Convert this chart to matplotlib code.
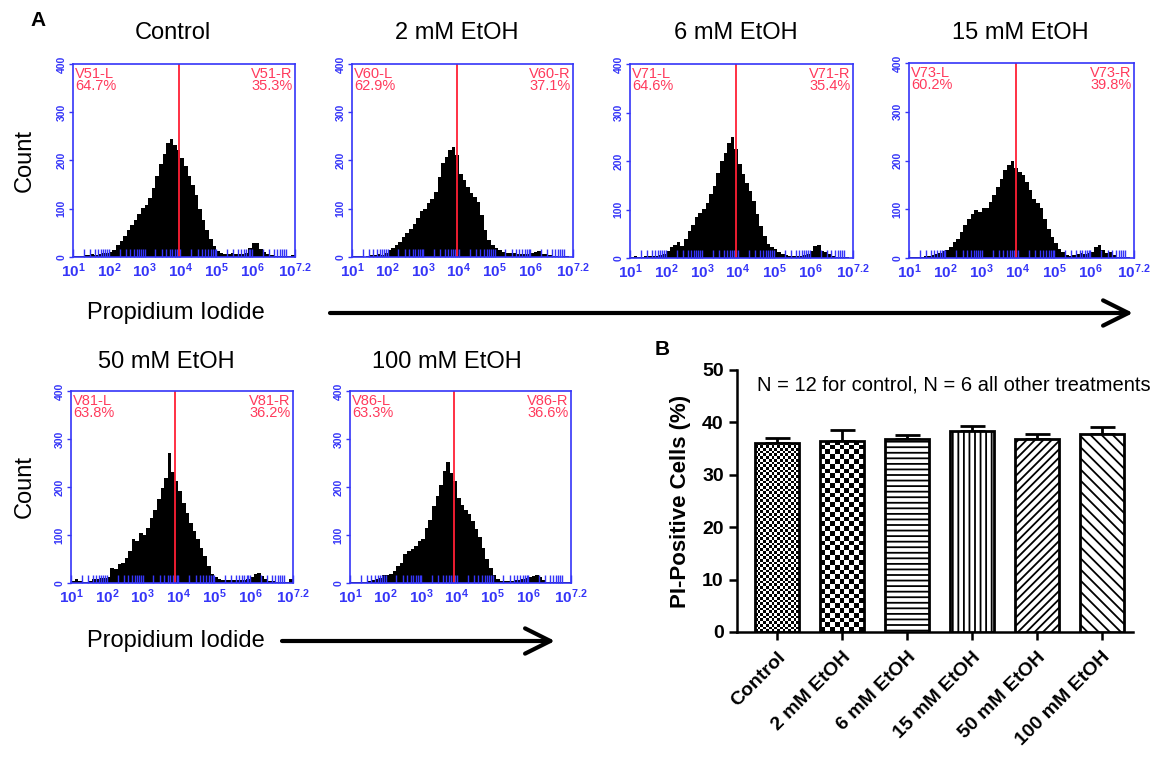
import numpy as np
import matplotlib
matplotlib.use("Agg")
import matplotlib.pyplot as plt
from matplotlib.ticker import FixedLocator, LogLocator, NullFormatter

plt.rcParams["font.family"] = ["Liberation Sans", "DejaVu Sans"]
plt.rcParams["mathtext.fontset"] = "custom"
plt.rcParams["mathtext.rm"] = "Liberation Sans"
plt.rcParams["mathtext.bf"] = "Liberation Sans:bold"
plt.rcParams["hatch.linewidth"] = 1.3

# --- panel A: PI histograms, counts per 0.1-decade bin, 10^1 .. 10^7.2 ---
hist_titles = ["Control", "2 mM EtOH", "6 mM EtOH", "15 mM EtOH", "50 mM EtOH", "100 mM EtOH"]
gate_ids = ["V51", "V60", "V71", "V73", "V81", "V86"]
left_pct = ["64.7%", "62.9%", "64.6%", "60.2%", "63.8%", "63.3%"]
right_pct = ["35.3%", "37.1%", "35.4%", "39.8%", "36.2%", "36.6%"]
gate_log = [3.95, 3.94, 3.94, 3.94, 3.91, 3.92]

counts_control = [3, 2, 3, 4, 5, 6, 5, 6, 8, 9, 11, 15, 24, 34, 44, 56, 66, 76, 90, 101,
                  107, 122, 142, 168, 192, 214, 236, 245, 232, 222, 205, 188, 168, 150, 128, 100, 76, 55, 38, 22,
                  12, 8, 7, 6, 8, 7, 6, 7, 9, 18, 30, 28, 17, 10, 6, 4, 3, 3, 2, 3, 3, 5]
counts_2mm = [2, 2, 3, 1, 2, 5, 5, 6, 5, 9, 14, 19, 24, 31, 42, 49, 59, 69, 80, 95,
              100, 111, 121, 135, 166, 194, 208, 222, 229, 211, 173, 159, 146, 132, 125, 114, 87, 55, 35, 24,
              19, 15, 10, 9, 8, 8, 7, 6, 6, 7, 8, 10, 12, 7, 6, 5, 3, 2, 1, 2, 2, 1]
counts_6mm = [3, 4, 3, 3, 4, 4, 5, 5, 7, 8, 14, 22, 27, 32, 25, 39, 56, 68, 84, 92,
              101, 114, 132, 149, 176, 200, 217, 238, 250, 224, 193, 173, 155, 138, 118, 90, 66, 46, 29, 22,
              18, 12, 8, 7, 5, 5, 5, 5, 7, 8, 15, 25, 27, 15, 12, 8, 5, 3, 2, 2, 2, 1]
counts_15mm = [3, 3, 3, 3, 5, 5, 6, 8, 10, 14, 16, 23, 33, 40, 54, 67, 81, 91, 98, 95,
               102, 103, 115, 129, 146, 163, 180, 191, 198, 184, 177, 170, 156, 139, 122, 112, 102, 81, 60, 43,
               30, 19, 12, 7, 5, 7, 8, 10, 8, 11, 12, 23, 26, 16, 11, 12, 7, 3, 3, 2, 2, 1]
counts_50mm = [4, 8, 4, 3, 3, 4, 8, 9, 10, 11, 12, 32, 30, 39, 42, 53, 66, 91, 87, 104,
               101, 115, 136, 153, 174, 198, 219, 270, 232, 212, 191, 167, 146, 125, 108, 91, 73, 56, 35, 19,
               12, 9, 7, 7, 6, 6, 6, 6, 7, 9, 13, 19, 21, 14, 8, 5, 4, 3, 3, 3, 3, 8]
counts_100mm = [3, 3, 2, 3, 3, 4, 6, 8, 10, 16, 17, 18, 25, 35, 42, 60, 66, 70, 77, 87,
                91, 115, 132, 160, 181, 205, 233, 253, 229, 212, 177, 163, 153, 143, 130, 112, 95, 72, 50, 32,
                17, 9, 5, 4, 4, 5, 6, 6, 8, 10, 12, 15, 17, 12, 6, 3, 2, 2, 2, 2, 2, 3]
hist_counts = [counts_control, counts_2mm, counts_6mm, counts_15mm, counts_50mm, counts_100mm]

# --- panel B: PI-positive cells ---
bar_labels = ["Control", "2 mM EtOH", "6 mM EtOH", "15 mM EtOH", "50 mM EtOH", "100 mM EtOH"]
pi_mean = [36.0, 36.4, 36.75, 38.3, 36.9, 37.7]
pi_sem = [1.0, 2.1, 0.9, 1.0, 0.8, 1.4]

W, H = 1162, 762
BLUE = "#3535f8"
RED_TXT = "#ff3a5c"
RED_LINE = "#ff2035"


def rect(l, t, r, b):
    return [l / W, 1 - b / H, (r - l) / W, (b - t) / H]


fig = plt.figure(figsize=(W / 100, H / 100), dpi=100)

hist_boxes = [(73, 64, 295, 257), (352, 64, 573, 257), (630, 64, 853, 258), (909, 63, 1134, 258),
              (71, 391, 293, 583), (350, 391, 571, 583)]
title_xy = [(173, 33), (457, 33), (736, 33), (1020, 33), (166, 362), (447, 362)]


def hist_panel(ax, counts, gid, lp, rp, gate):
    edges = np.logspace(1, 7.2, len(counts) + 1)
    ax.stairs(counts, edges, fill=True, color="black", lw=0)
    ax.set_xscale("log")
    ax.set_xlim(10, 10 ** 7.2)
    ax.set_ylim(0, 400)
    ax.axvline(10 ** gate, color=RED_LINE, lw=1.3)
    for sp in ax.spines.values():
        sp.set_color(BLUE)
        sp.set_linewidth(1.2)
    major = [10.0 ** k for k in range(1, 7)] + [10 ** 7.2]
    ax.xaxis.set_major_locator(FixedLocator(major))
    ax.set_xticklabels([rf"$\mathbf{{10^{{{k}}}}}$" for k in ["1", "2", "3", "4", "5", "6", "7.2"]])
    ax.xaxis.set_minor_locator(LogLocator(base=10, subs=np.arange(2, 10), numticks=20))
    ax.xaxis.set_minor_formatter(NullFormatter())
    ax.tick_params(axis="x", which="both", direction="in", length=6, width=1, color=BLUE,
                   labelcolor=BLUE, labelsize=11, pad=3)
    ax.set_yticks([0, 100, 200, 300, 400])
    ax.tick_params(axis="y", direction="out", length=3, width=1, color=BLUE, labelcolor=BLUE,
                   labelsize=7.5, pad=1.5)
    for lab in ax.get_yticklabels():
        lab.set_rotation(90)
        lab.set_fontweight("bold")
        lab.set_va("center")
    ax.text(0.01, 0.985, f"{gid}-L\n{lp}", transform=ax.transAxes, ha="left", va="top",
            color=RED_TXT, fontsize=10.5, linespacing=0.86)
    ax.text(0.99, 0.985, f"{gid}-R\n{rp}", transform=ax.transAxes, ha="right", va="top",
            color=RED_TXT, fontsize=10.5, linespacing=0.86)


for i in range(6):
    ax = fig.add_axes(rect(*hist_boxes[i]))
    hist_panel(ax, hist_counts[i], gate_ids[i], left_pct[i], right_pct[i], gate_log[i])
    tx, ty = title_xy[i]
    fig.text(tx / W, 1 - ty / H, hist_titles[i], ha="center", va="center", fontsize=17)

fig.text(38 / W, 1 - 20 / H, "A", ha="center", va="center", fontsize=15, fontweight="bold")
for cy in (160, 487):
    fig.text(25 / W, 1 - cy / H, "Count", rotation=90, ha="center", va="center", fontsize=17)
for py, x0, x1 in ((313, 330, 1133), (641, 282, 555)):
    fig.text(176 / W, 1 - py / H, "Propidium Iodide", ha="center", va="center", fontsize=17)
    fig.add_artist(matplotlib.patches.FancyArrowPatch(
        (x0 / W, 1 - py / H), (x1 / W, 1 - py / H), transform=fig.transFigure,
        arrowstyle="->,head_length=1.3,head_width=0.65", mutation_scale=14,
        lw=3, color="black", shrinkA=0, shrinkB=0))

# --- panel B ---
axb = fig.add_axes(rect(737, 370, 1133, 632))
x = np.arange(len(pi_mean))
axb.set_xlim(-0.62, 5.48)
axb.set_ylim(0, 50)
hatches = [None, None, "---", "|||", "////", "\\\\\\"]
bars = axb.bar(x, pi_mean, width=0.68, color="white", edgecolor="black", lw=2.0, zorder=3)
for b, h in zip(bars, hatches):
    if h:
        b.set_hatch(h)
    else:
        b.set_facecolor("none")
axb.errorbar(x, pi_mean, yerr=[np.zeros(len(pi_sem)), pi_sem], fmt="none", ecolor="black",
             elinewidth=2, capsize=9, capthick=2, zorder=2)


def checker_fill(ax, bar, cell_px):
    x0, y0 = bar.get_x(), bar.get_y()
    x1, y1 = x0 + bar.get_width(), y0 + bar.get_height()
    (px0, py0), (px1, py1) = ax.transData.transform([(x0, y0), (x1, y1)])
    nx = int(np.ceil((px1 - px0) / cell_px))
    ny = int(np.ceil((py1 - py0) / cell_px))
    board = np.add.outer(np.arange(ny), np.arange(nx)) % 2
    im = ax.imshow(board, cmap="gray", vmin=0, vmax=1,
                   extent=(x0, x0 + nx * cell_px * (x1 - x0) / (px1 - px0), y0,
                           y0 + ny * cell_px * (y1 - y0) / (py1 - py0)),
                   origin="lower", interpolation="nearest", aspect="auto", zorder=2.5)
    im.set_clip_path(bar)


checker_fill(axb, bars[0], 2.7)
checker_fill(axb, bars[1], 4.8)
axb.set_xlim(-0.62, 5.48)
axb.set_ylim(0, 50)

for side in ("top", "right"):
    axb.spines[side].set_visible(False)
for side in ("left", "bottom"):
    axb.spines[side].set_linewidth(1.8)
axb.set_yticks([0, 10, 20, 30, 40, 50])
axb.set_xticks(x)
axb.set_xticklabels(bar_labels, rotation=45, ha="right", rotation_mode="anchor",
                    fontsize=13, fontweight="bold")
for lab in axb.get_yticklabels():
    lab.set_fontweight("bold")
axb.tick_params(axis="both", direction="out", length=6, width=1.8, labelsize=14)
axb.tick_params(axis="x", pad=6)
axb.set_ylabel("PI-Positive Cells (%)", fontsize=16, fontweight="bold", labelpad=8)
axb.text(757 / W, 1 - 385 / H, "N = 12 for control, N = 6 all other treatments",
         transform=fig.transFigure, ha="left", va="center", fontsize=14.5)
fig.text(662 / W, 1 - 350 / H, "B", ha="center", va="center", fontsize=15, fontweight="bold")

fig.savefig("out.png", dpi=100)
